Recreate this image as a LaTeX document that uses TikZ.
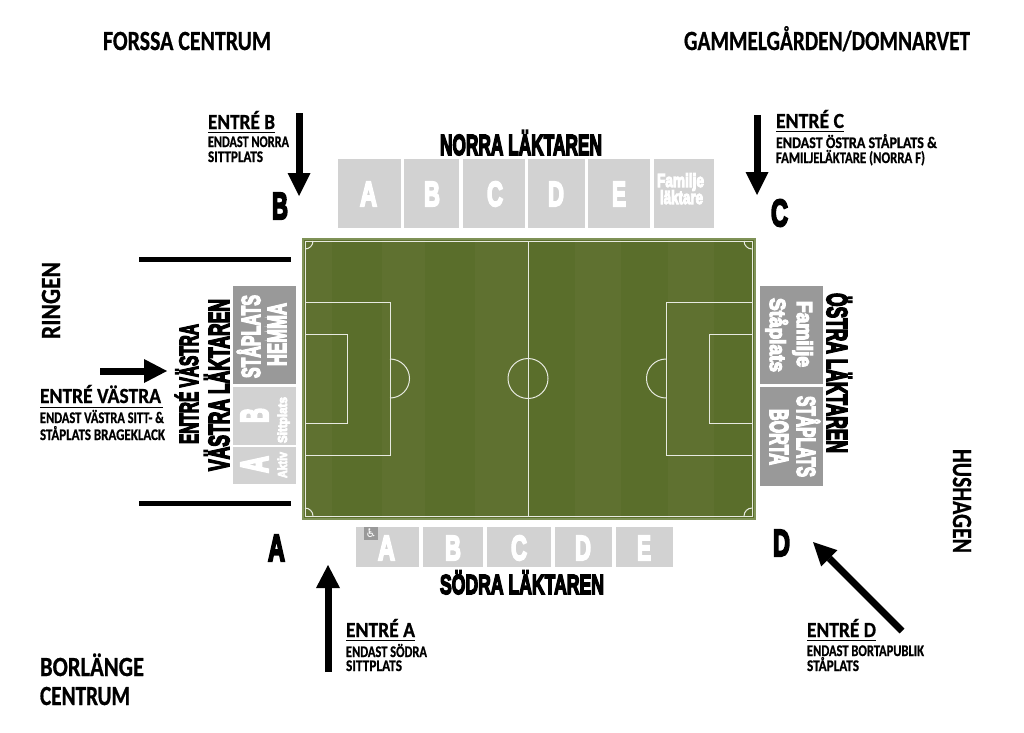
\documentclass[tikz,border=0pt]{standalone}
\usepackage{fontspec}
\usepackage{graphicx}
\setmainfont{Carlito}[BoldFont={Carlito Bold}]
\newfontfamily\heavyf{Liberation Sans Bold}[FakeBold=6]
\newfontfamily\labelf{Carlito Bold}[FakeBold=0.8]
\newfontfamily\symf{DejaVu Sans}
\definecolor{pitchA}{HTML}{5F7130}
\definecolor{pitchB}{HTML}{5A6E2B}
\definecolor{pitchedge}{HTML}{7F9257}
\definecolor{standlight}{HTML}{D2D2D2}
\definecolor{standdark}{HTML}{999999}
\newsavebox\fitbox
\newsavebox\caphbox
% #1 font, #2 target width, #3 target cap height, #4 text
\newcommand{\fitt}[4]{%
  \sbox\fitbox{#1#4}\sbox\caphbox{#1H}%
  \pgfmathsetmacro\sxx{#2/(\wd\fitbox/1pt)}%
  \pgfmathsetmacro\syy{#3/(\ht\caphbox/1pt)}%
  \scalebox{\sxx}[\syy]{\usebox\fitbox}}
\tikzset{
  lbl/.style={inner sep=0pt,outer sep=0pt,anchor=base west},
  standl/.style={fill=standlight,draw=none,inner sep=0pt,outer sep=0pt,anchor=north west},
  standd/.style={fill=standdark,draw=none,inner sep=0pt,outer sep=0pt,anchor=north west},
  fline/.style={draw=white!85!pitchA,line width=1pt},
  barl/.style={line width=5pt,black},
  rulel/.style={line width=0.9pt,black},
  shaftl/.style={line width=7pt,black},
}
% name, x, y(baseline), rot, font, w, h, colour, text
\newcommand{\lab}[9]{\node[lbl,rotate=#4,text=#8] (#1) at (#2,#3) {\fitt{#5}{#6}{#7}{#9}};}
% name, x0,y0,x1,y1,style
\newcommand{\stand}[6]{\pgfmathsetmacro\ww{#4-#2}\pgfmathsetmacro\hh{#5-#3}%
  \node[#6,minimum width=\ww pt,minimum height=\hh pt] (#1) at (#2,#3) {};}
% arrow from (a) to (b): named coordinates; head length and half width in pt
\newcommand{\entryarrow}[4]{%
  \path
    coordinate (hb) at ($(#2)!#3pt!(#1)$)
    coordinate (hl) at ($(hb)!#4pt!90:(#2)$)
    coordinate (hr) at ($(hb)!#4pt!-90:(#2)$);
  \draw[shaftl] (#1) -- (hb);
  \fill[black] (#2) -- (hl) -- (hr) -- cycle;}
\usetikzlibrary{calc}
\begin{document}
\begin{tikzpicture}[x=1pt,y=-1pt]
\useasboundingbox (0,0) rectangle (1024,732);
\fill[white] (0,0) rectangle (1024,732);
% pitch
\fill[pitchedge] (302,238) rectangle (755.5,519.5);
\fill[pitchA] (303.5,239.5) rectangle (754,518);
\foreach \a/\b in {332/382,425/475,528/575,621/668,714/754}{
  \fill[pitchB] (\a,239.5) rectangle (\b,518);
}
\draw[fline] (305,241) rectangle (752,516);
\draw[fline] (528,241) -- (528,516);
\draw[fline] (528,378.5) circle (20);
\draw[fline] (305,302) rectangle (390,455);
\draw[fline] (305,334) rectangle (347,423);
\draw[fline] (752,302) rectangle (666,455);
\draw[fline] (752,334) rectangle (709,423);
\draw[fline] (390,359) arc[start angle=-90,end angle=90,radius=19.5];
\draw[fline] (666,359) arc[start angle=-90,end angle=-270,radius=19.5];
\draw[fline] (305,249) arc[start angle=90,end angle=0,radius=8];
\draw[fline] (752,249) arc[start angle=90,end angle=180,radius=8];
\draw[fline] (305,508) arc[start angle=-90,end angle=0,radius=8];
\draw[fline] (752,508) arc[start angle=-90,end angle=-180,radius=8];
% barriers
\coordinate (b1a) at (139,259); \coordinate (b1b) at (291,259);
\coordinate (b2a) at (139,503.5); \coordinate (b2b) at (291,503.5);
\draw[barl] (b1a) -- (b1b);
\draw[barl] (b2a) -- (b2b);
% north stands
\stand{na}{338}{159}{401}{228}{standl}
\stand{nb}{404}{159}{459}{228}{standl}
\stand{nc}{463}{159}{525}{228}{standl}
\stand{nd}{528}{159}{585}{228}{standl}
\stand{ne}{588}{159}{650}{228}{standl}
\stand{nf}{654}{159}{714}{228}{standl}
\lab{nat}{360}{206}{0}{\heavyf}{17}{24}{white}{A}
\lab{nbt}{424}{206}{0}{\heavyf}{16}{24}{white}{B}
\lab{nct}{487}{206}{0}{\heavyf}{16}{24}{white}{C}
\lab{ndt}{548}{206}{0}{\heavyf}{16}{24}{white}{D}
\lab{net}{612}{206}{0}{\heavyf}{14}{24}{white}{E}
\lab{nft}{657}{187}{0}{\heavyf}{47}{13}{white}{Familje}
\lab{nft2}{660}{204}{0}{\heavyf}{43}{13}{white}{läktare}
\lab{ntitle}{440}{155}{0}{\heavyf}{162}{20}{black}{NORRA LÄKTAREN}
% south stands
\stand{sa}{356}{527}{419}{567}{standl}
\stand{sb}{423}{527}{483}{567}{standl}
\stand{sc}{487}{527}{551}{567}{standl}
\stand{sd}{555}{527}{612}{567}{standl}
\stand{se}{616}{527}{673}{567}{standl}
\stand{sw}{364}{527}{378}{540}{standd}
\node[inner sep=0pt,text=white] (wc) at (371,533.5) {\symf\fontsize{12}{12}\selectfont ♿};
\lab{sat}{378}{560}{0}{\heavyf}{17}{24}{white}{A}
\lab{sbt}{445}{560}{0}{\heavyf}{16}{24}{white}{B}
\lab{sct}{511}{560}{0}{\heavyf}{16}{24}{white}{C}
\lab{sdt}{575}{560}{0}{\heavyf}{16}{24}{white}{D}
\lab{set}{637}{560}{0}{\heavyf}{14}{24}{white}{E}
\lab{stitle}{440}{594}{0}{\heavyf}{164}{19}{black}{SÖDRA LÄKTAREN}
% west stands
\stand{wd}{233}{286}{296}{384}{standd}
\stand{wb}{233}{387}{296}{445}{standl}
\stand{wa}{233}{447}{296}{484}{standl}
\lab{wdt1}{260}{378}{90}{\heavyf}{83}{18}{white}{STÅPLATS}
\lab{wdt2}{286}{366}{90}{\heavyf}{63}{18}{white}{HEMMA}
\lab{wbt}{268}{423}{90}{\heavyf}{15}{27}{white}{B}
\lab{wbt2}{287}{443}{90}{\heavyf}{46}{9}{white}{Sittplats}
\lab{wat}{268}{473}{90}{\heavyf}{17}{27}{white}{A}
\lab{wat2}{287}{478}{90}{\heavyf}{26}{9}{white}{Aktiv}
\lab{wt1}{198}{444}{90}{\heavyf}{120}{18}{black}{ENTRÉ VÄSTRA}
\lab{wt2}{229}{471}{90}{\heavyf}{172}{20}{black}{VÄSTRA LÄKTAREN}
% east stands
\stand{ef}{760}{286}{823}{384}{standd}
\stand{eb}{760}{387}{823}{486}{standd}
\lab{eft1}{797}{301}{-90}{\heavyf}{66}{15}{white}{Familje}
\lab{eft2}{770}{298}{-90}{\heavyf}{74}{15}{white}{Ståplats}
\lab{ebt1}{797}{396}{-90}{\heavyf}{81}{18}{white}{STÅPLATS}
\lab{ebt2}{770}{409}{-90}{\heavyf}{56}{18}{white}{BORTA}
\lab{etitle}{827}{293}{-90}{\heavyf}{160}{20}{black}{ÖSTRA LÄKTAREN}
% gate letters
\lab{gb}{272}{219}{0}{\heavyf}{16}{26}{black}{B}
\lab{gc}{771}{226}{0}{\heavyf}{17}{26}{black}{C}
\lab{ga}{268}{561}{0}{\heavyf}{17}{26}{black}{A}
\lab{gd}{773}{556}{0}{\heavyf}{17}{26}{black}{D}
% compass labels
\lab{forssa}{103}{50}{0}{\labelf}{168}{18}{black}{FORSSA CENTRUM}
\lab{gammel}{684}{50}{0}{\labelf}{286}{18}{black}{GAMMELGÅRDEN/DOMNARVET}
\lab{ringen}{60}{339}{90}{\labelf}{77}{18}{black}{RINGEN}
\lab{hush}{953}{449}{-90}{\labelf}{104}{18}{black}{HUSHAGEN}
\lab{borl}{40}{676}{0}{\labelf}{104}{18}{black}{BORLÄNGE}
\lab{cent}{40}{705}{0}{\labelf}{90}{18}{black}{CENTRUM}
% entry B
\lab{eb1}{208}{129}{0}{\labelf}{67}{14}{black}{ENTRÉ B}
\lab{eb2}{208}{147}{0}{\labelf}{81}{10.5}{black}{ENDAST NORRA}
\lab{eb3}{208}{162}{0}{\labelf}{55}{10.5}{black}{SITTPLATS}
\draw[rulel] (eb1.base west) ++(0,3) -- ++(67,0);
% entry C
\lab{ec1}{776}{128}{0}{\labelf}{68}{14}{black}{ENTRÉ C}
\lab{ec2}{776}{148}{0}{\labelf}{161}{10.5}{black}{ENDAST ÖSTRA STÅPLATS \&}
\lab{ec3}{776}{163}{0}{\labelf}{149}{10.5}{black}{FAMILJELÄKTARE (NORRA F)}
\draw[rulel] (ec1.base west) ++(0,3) -- ++(68,0);
% entry A
\lab{ea1}{346}{637}{0}{\labelf}{69}{14}{black}{ENTRÉ A}
\lab{ea2}{346}{657}{0}{\labelf}{81}{10.5}{black}{ENDAST SÖDRA}
\lab{ea3}{346}{671}{0}{\labelf}{56}{10.5}{black}{SITTPLATS}
\draw[rulel] (ea1.base west) ++(0,3) -- ++(69,0);
% entry D
\lab{ed1}{807}{637}{0}{\labelf}{69}{14}{black}{ENTRÉ D}
\lab{ed2}{807}{656}{0}{\labelf}{117}{10.5}{black}{ENDAST BORTAPUBLIK}
\lab{ed3}{807}{671}{0}{\labelf}{52}{10.5}{black}{STÅPLATS}
\draw[rulel] (ed1.base west) ++(0,3) -- ++(69,0);
% entry W
\lab{ew1}{40}{403}{0}{\labelf}{121}{14}{black}{ENTRÉ VÄSTRA}
\lab{ew2}{40}{423}{0}{\labelf}{124}{10.5}{black}{ENDAST VÄSTRA SITT- \&}
\lab{ew3}{40}{440}{0}{\labelf}{125}{10.5}{black}{STÅPLATS BRAGEKLACK}
\draw[rulel] (ew1.base west) ++(0,4) -- ++(123,0);
% arrows
\coordinate (ab0) at (299,113); \coordinate (ab1) at (299,196);
\coordinate (ac0) at (757,115); \coordinate (ac1) at (757,195);
\coordinate (aa0) at (328,672); \coordinate (aa1) at (328,565);
\coordinate (ad0) at (902,631); \coordinate (ad1) at (813,542);
\coordinate (aw0) at (100,371); \coordinate (aw1) at (167,371);
\entryarrow{ab0}{ab1}{23}{11.5}
\entryarrow{ac0}{ac1}{23}{11.5}
\entryarrow{aa0}{aa1}{23}{12}
\entryarrow{ad0}{ad1}{23}{11.5}
\entryarrow{aw0}{aw1}{23}{12}
\end{tikzpicture}
\end{document}
